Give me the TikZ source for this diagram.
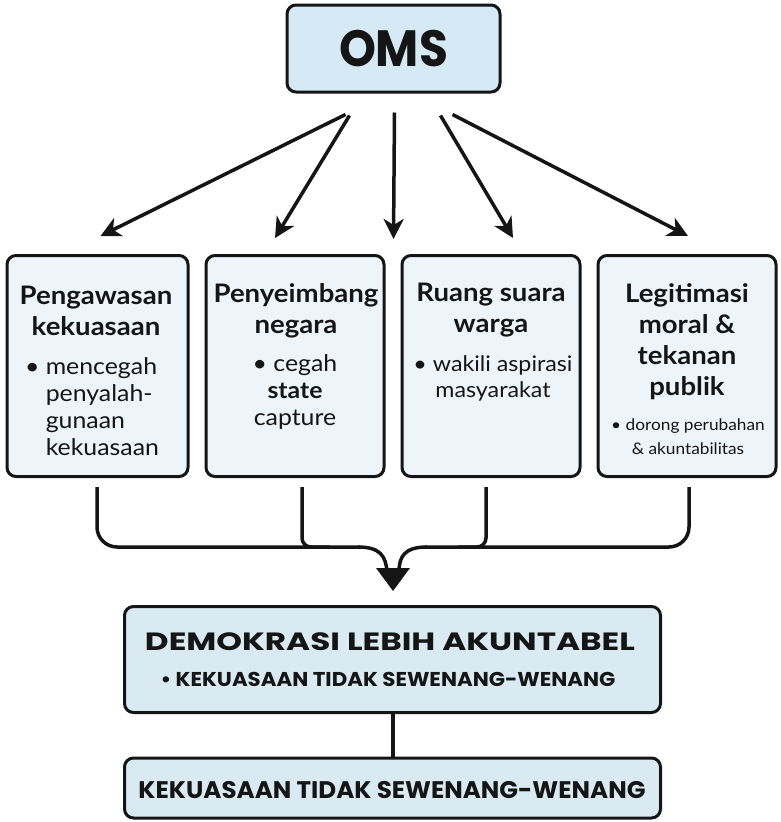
\documentclass[tikz,border=0pt]{standalone}
\usepackage{graphicx}
\usepackage{fontspec}
\setmainfont{Lato}[FakeStretch=1.08]
\newfontfamily\popfont{Poppins}
\usetikzlibrary{arrows.meta}
\definecolor{omsfill}{HTML}{D5EAF4}
\definecolor{boxfill}{HTML}{EEF5FA}
\definecolor{botfill}{HTML}{DAEAF3}
\definecolor{ink}{HTML}{151515}
\begin{document}
\begin{tikzpicture}[x=1pt,y=-1pt,
  box/.style={draw=ink, line width=3pt, rounded corners=9pt, fill=boxfill, inner sep=0pt},
  head/.style={text=ink, align=center, inner sep=0pt, font=\fontsize{25.5}{31}\selectfont\bfseries},
  body/.style={text=ink, align=center, inner sep=0pt, font=\fontsize{23}{27}\selectfont},
  arr/.style={draw=ink, line width=3.5pt, -{Stealth[length=20pt,width=20pt,inset=6pt]}},
  conn/.style={draw=ink, line width=3.5pt},
  caps/.style={text=ink, inner sep=0pt}
]
\useasboundingbox (0,0) rectangle (780,822);

% top node
\node[box, fill=omsfill, minimum width=213pt, minimum height=87pt, text=ink]
  (oms) at (393.5,48.5) {\resizebox{109pt}{\height}{\fontsize{51}{51}\selectfont\popfont\bfseries OMS}};

% four boxes
\node[box, minimum width=181pt, minimum height=221pt] (b1) at (97.5,366) {};
\node[box, minimum width=178pt, minimum height=221pt] (b2) at (295,366) {};
\node[box, minimum width=178pt, minimum height=221pt] (b3) at (491,366) {};
\node[box, minimum width=178pt, minimum height=221pt] (b4) at (687,366) {};

\node[head] (h1) at (96,310.5) {Pengawasan\\kekuasaan};
\node[body, align=left] (t1) at (92,406.5) {• mencegah\\\hphantom{• }penyalah-\\\hphantom{• }gunaan\\\hphantom{• }kekuasaan};

\node[head] (h2) at (296,310.5) {Penyeimbang\\negara};
\node[body] (t2) at (295,392) {• cegah\\\textbf{state}\\capture};

\node[head] (h3) at (491,310) {Ruang suara\\warga};
\node[body, font=\fontsize{21.5}{26}\selectfont] (t3) at (493,378.5) {• wakili aspirasi\\masyarakat};

\node[head] (h4) at (687,341.5) {Legitimasi\\moral \&\\tekanan\\publik};
\node[body, font=\fontsize{16}{24}\selectfont] (t4) at (688,437) {• dorong perubahan\\\& akuntabilitas};

% arrows from OMS
\draw[arr] ([xshift=-48pt,yshift=-21pt]oms.south) -- ([xshift=3pt,yshift=18pt]b1.north);
\draw[arr] ([xshift=-44pt,yshift=-22pt]oms.south) -- ([xshift=-20pt,yshift=16pt]b2.north);
\draw[arr] ([xshift=1pt,yshift=-19pt]oms.south) -- ([xshift=0pt,yshift=15pt]oms.south |- b2.north);
\draw[arr] ([xshift=47pt,yshift=-22pt]oms.south) -- ([xshift=22pt,yshift=16pt]b3.north);
\draw[arr] ([xshift=59pt,yshift=-21pt]oms.south) -- ([xshift=1pt,yshift=18pt]b4.north);

% merging bracket
\coordinate (j1) at (97,487);
\coordinate (j2) at (302,487);
\coordinate (j3) at (486,487);
\coordinate (j4) at (689,487);
\coordinate (tipl) at (387,572);
\coordinate (tipr) at (399,572);
\draw[conn, rounded corners=20pt] (j1) |- (360,547);
\draw[conn] (358,547) .. controls (380,547) and (386,556) .. (tipl);
\draw[conn, rounded corners=20pt] (j4) |- (425,547);
\draw[conn] (427,547) .. controls (405,547) and (399,556) .. (tipr);
\draw[conn, rounded corners=9pt] (j2) |- (330,547);
\draw[conn, rounded corners=9pt] (j3) |- (458,547);
\fill[ink] (376,568) -- (410,568) -- (393,591) -- cycle;

% bottom boxes
\node[box, fill=botfill, minimum width=536pt, minimum height=106pt] (d1) at (392.5,659.5) {};
\node[caps] (d1a) at (390,642) {\resizebox{490pt}{\height}{\fontsize{25}{30}\selectfont\popfont\bfseries DEMOKRASI LEBIH AKUNTABEL}};
\node[caps] (d1b) at (388,679) {\resizebox{455pt}{\height}{\fontsize{20}{24}\selectfont\popfont\bfseries • KEKUASAAN TIDAK SEWENANG-WENANG}};

\node[box, fill=botfill, minimum width=536pt, minimum height=60pt] (d2) at (392.5,788) {};
\node[caps] (d2a) at (392,790) {\resizebox{507pt}{\height}{\fontsize{24}{28}\selectfont\popfont\bfseries KEKUASAAN TIDAK SEWENANG-WENANG}};

\draw[conn] (d1.south -| 393,0) -- (d2.north -| 393,0);
\end{tikzpicture}
\end{document}
